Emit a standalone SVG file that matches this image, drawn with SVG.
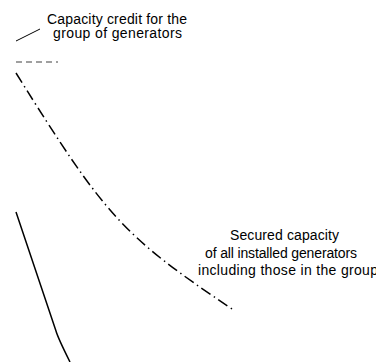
<svg xmlns="http://www.w3.org/2000/svg" width="376" height="362" viewBox="0 0 376 362">
<style>
.t{font-family:"Liberation Sans",Arial,sans-serif;font-size:14px;fill:#000}
.solid{fill:none;stroke:#000;stroke-width:1.5}
.dashdot{fill:none;stroke:#000;stroke-width:1.5;stroke-dasharray:11 4 1.5 4}
.dash{fill:none;stroke:#808080;stroke-width:1.5;stroke-dasharray:6 4}
</style>
<rect width="376" height="362" fill="#fff"/>
<g id="legend">
<line class="solid" x1="16" y1="41" x2="40" y2="29" style="stroke-width:1"/>
<text class="t" x="47" y="24" textLength="140" lengthAdjust="spacing">Capacity credit for the</text>
<text class="t" x="53" y="38" textLength="129" lengthAdjust="spacing">group of generators</text>
<line class="dash" x1="16" y1="62" x2="58" y2="62"/>
</g>
<g id="curves">
<path id="secured-curve" class="dashdot" d="M16,73 C106,217 122,235 232,309"/>
<path id="credit-line" class="solid" d="M16,212 L56,331 Q58,338 70,362"/>
</g>
<g id="secured-label">
<text class="t" x="230" y="240" textLength="109" lengthAdjust="spacing">Secured capacity</text>
<text class="t" x="205" y="257.5" textLength="152" lengthAdjust="spacing">of all installed generators</text>
<text class="t" x="198" y="275" textLength="180" lengthAdjust="spacing">including those in the group</text>
</g>
</svg>
